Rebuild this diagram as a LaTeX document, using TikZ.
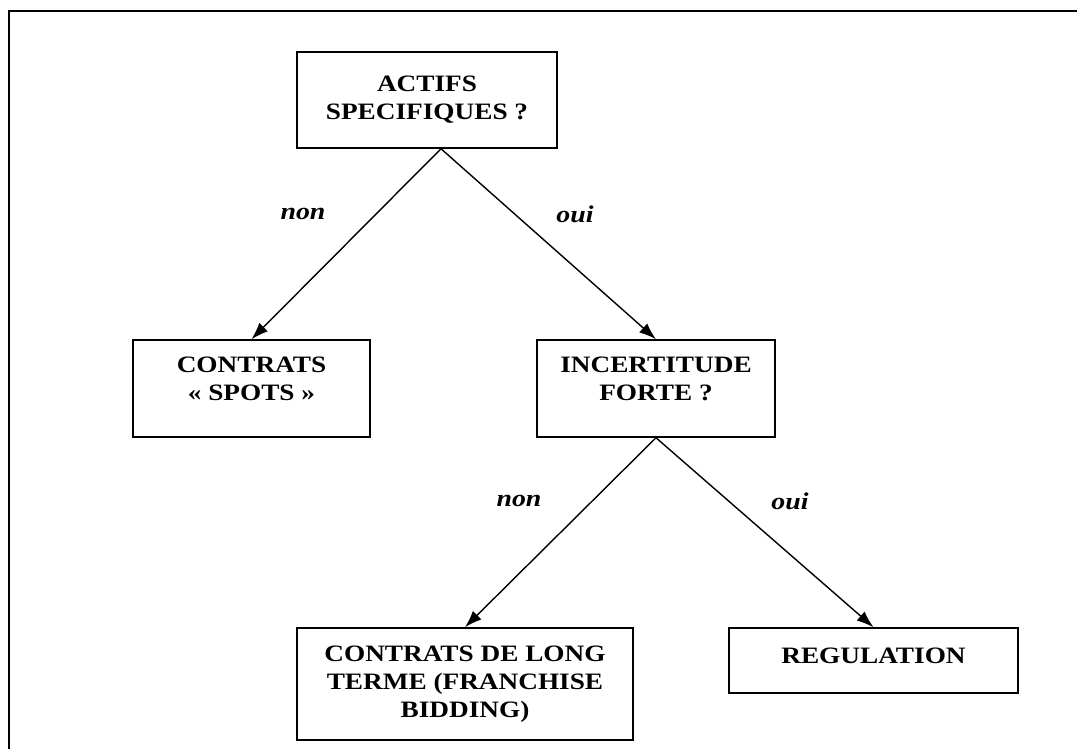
\documentclass[tikz,border=0pt]{standalone}
\usepackage{fontspec}
\newfontfamily\treefont{Liberation Serif}[FakeStretch=1.16]
\usetikzlibrary{arrows.meta}

\begin{document}
\begin{tikzpicture}[
  x=1pt, y=-1pt,
  box/.style={draw, line width=1.5pt, align=center, inner sep=0pt, font=\treefont\fontsize{23.5}{28}\selectfont\bfseries},
  arr/.style={-{Latex[length=17pt, width=12pt]}, line width=1.4pt},
  ans/.style={font=\treefont\fontsize{24}{28}\selectfont\bfseries\itshape}
]
  \useasboundingbox (0,0) rectangle (1077,749);
  \draw[line width=2pt] (9,749) -- (9,11.5) -- (1077,11.5);

  \node[box, minimum width=260pt, minimum height=96pt] (actifs) at (427,100) {ACTIFS\\SPECIFIQUES ?};
  \node[box, minimum width=237pt, minimum height=97pt, text depth=19pt] (spots) at (251.5,388.5) {CONTRATS\\« SPOTS »};
  \node[box, minimum width=238pt, minimum height=97pt, text depth=19pt] (incert) at (656,388.5) {INCERTITUDE\\FORTE ?};
  \node[box, minimum width=336pt, minimum height=112pt] (longterme) at (465,684) {CONTRATS DE LONG\\TERME (FRANCHISE\\BIDDING)};
  \node[box, minimum width=289pt, minimum height=65pt, text depth=9pt] (regul) at (873.5,660.5) {REGULATION};

  % premiere question
  \draw[arr] ([xshift=14pt]actifs.south) -- (spots.north);
  \draw[arr] ([xshift=14pt]actifs.south) -- (incert.north);
  \node[ans] (non1) at (303,214) {non};
  \node[ans] (oui1) at (575,214) {oui};

  % deuxieme question
  \draw[arr] (incert.south) -- (longterme.north);
  \draw[arr] (incert.south) -- (regul.north);
  \node[ans] (non2) at (519,501) {non};
  \node[ans] (oui2) at (790,501) {oui};
\end{tikzpicture}
\end{document}
